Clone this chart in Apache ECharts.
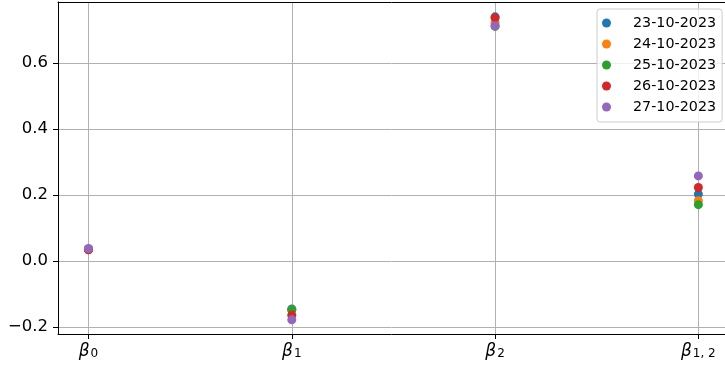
<!DOCTYPE html>
<html>
<head>
<meta charset="utf-8">
<script src="https://cdn.jsdelivr.net/npm/echarts@6/dist/echarts.min.js"></script>
<style>html,body{margin:0;padding:0;background:#fff}#c{width:725px;height:369px}</style>
</head>
<body>
<div id="c"></div>
<script>
const categories = ['{b|β}{s|0}', '{b|β}{s|1}', '{b|β}{s|2}', '{b|β}{s|1, 2}'];
const dates = ['23-10-2023', '24-10-2023', '25-10-2023', '26-10-2023', '27-10-2023'];
const s23 = [0.035, -0.145, 0.740, 0.203];
const s24 = [0.035, -0.148, 0.722, 0.183];
const s25 = [0.036, -0.148, 0.711, 0.171];
const s26 = [0.034, -0.164, 0.737, 0.223];
const s27 = [0.038, -0.178, 0.713, 0.258];
const yTicks = [-0.2, 0.0, 0.2, 0.4, 0.6];
const colors = ['#1f77b4', '#ff7f0e', '#2ca02c', '#d62728', '#9467bd'];

const allSeries = [s23, s24, s25, s26, s27];
const font = 'DejaVu Sans';
const chart = echarts.init(document.getElementById('c'), null, {renderer: 'canvas'});
chart.setOption({
  animation: false,
  color: colors,
  textStyle: {fontFamily: font},
  grid: {left: 58, right: 0, top: 2, bottom: 35, containLabel: false, show: false},
  xAxis: [{
    type: 'value', min: -0.15, max: 3.131,
    axisLine: {show: true, onZero: false, lineStyle: {color: '#000', width: 1}},
    axisTick: {show: true, customValues: [0, 1, 2, 3], length: 5, lineStyle: {color: '#000'}},
    axisLabel: {
      customValues: [0, 1, 2, 3], margin: 8,
      formatter: v => categories[Math.round(v)],
      rich: {
        b: {fontFamily: font, fontSize: 17, fontStyle: 'italic', color: '#000', verticalAlign: 'bottom'},
        s: {fontFamily: font, fontSize: 12, color: '#000', verticalAlign: 'bottom', padding: [6, 0, 0, 1]}
      }
    },
    splitLine: {show: true, lineStyle: {color: '#b0b0b0', width: 1}}
  }, {
    type: 'value', position: 'top', min: -0.15, max: 3.131,
    axisLine: {show: true, onZero: false, lineStyle: {color: '#000', width: 1}},
    axisTick: {show: false}, axisLabel: {show: false}, splitLine: {show: false}
  }],
  yAxis: {
    type: 'value', min: -0.221, max: 0.785,
    axisLine: {show: true, onZero: false, lineStyle: {color: '#000', width: 1}},
    axisTick: {show: true, customValues: yTicks, length: 5, lineStyle: {color: '#000'}},
    axisLabel: {
      customValues: yTicks, margin: 10, fontSize: 16.5, color: '#000', fontFamily: font,
      formatter: v => (v < 0 ? '\u2212' : '') + Math.abs(v).toFixed(1)
    },
    splitLine: {show: true, lineStyle: {color: '#b0b0b0', width: 1}}
  },
  legend: {
    orient: 'vertical', left: 597, top: 9,
    icon: 'circle', itemWidth: 9, itemHeight: 9, itemGap: 7,
    padding: [7, 6, 8, 5],
    backgroundColor: 'rgba(255,255,255,0.8)',
    borderColor: '#cccccc', borderWidth: 1, borderRadius: 3,
    textStyle: {fontFamily: font, fontSize: 14.3, color: '#000', lineHeight: 14, padding: [0, 0, 0, 17]},
    data: dates
  },
  series: allSeries.map((arr, i) => ({
    name: dates[i], type: 'scatter', symbolSize: 9,
    itemStyle: {color: colors[i], opacity: 1},
    data: arr.map((v, j) => [j, v]),
    z: 2 + i
  }))
});
</script>
</body>
</html>
